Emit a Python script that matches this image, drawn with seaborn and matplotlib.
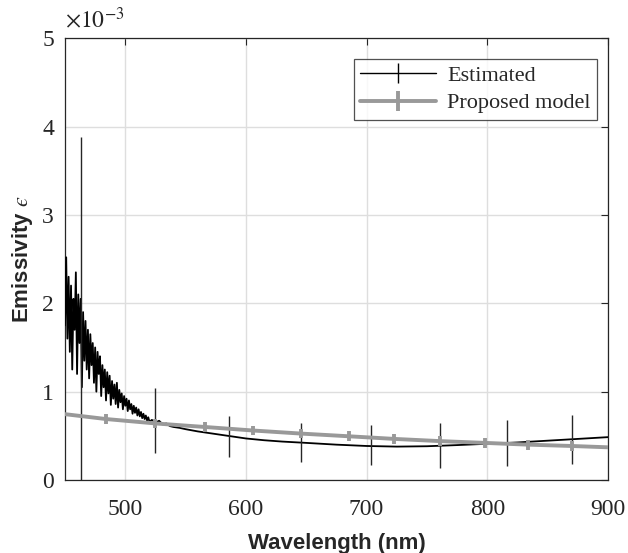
import numpy as np
import pandas as pd
import matplotlib
matplotlib.use("Agg")
from matplotlib import pyplot as plt
from matplotlib.lines import Line2D
import seaborn as sns

# estimated emissivity (x1e-3), dense noisy part then smooth tail
wl_est = list(range(450, 521)) + [522, 525, 528, 531, 534, 537, 540, 545, 550, 560, 570,
                                  580, 590, 600, 615, 630, 650, 675, 700, 725, 750, 775,
                                  800, 825, 850, 875, 900]
eps_est = [1.75, 2.52, 1.60, 2.30, 1.45, 2.20, 1.25, 2.05, 1.70, 2.35,
           1.20, 2.10, 1.55, 2.05, 1.05, 1.90, 1.35, 1.80, 1.25, 1.70,
           1.15, 1.65, 1.30, 1.55, 1.10, 1.50, 1.00, 1.45, 1.20, 1.40,
           0.95, 1.30, 1.05, 1.25, 0.90, 1.22, 0.98, 1.18, 0.85, 1.12,
           0.92, 1.08, 0.86, 1.10, 0.82, 1.02, 0.88, 0.98, 0.80, 0.95,
           0.84, 0.92, 0.78, 0.90, 0.80, 0.86, 0.75, 0.84, 0.76, 0.82,
           0.73, 0.80, 0.72, 0.77, 0.70, 0.75, 0.69, 0.73, 0.67, 0.71,
           0.66,
           0.68, 0.65, 0.67, 0.63, 0.64, 0.61, 0.60, 0.59, 0.575, 0.55, 0.53,
           0.51, 0.49, 0.47, 0.45, 0.435, 0.42, 0.40, 0.385, 0.378, 0.382, 0.395,
           0.41, 0.425, 0.445, 0.465, 0.485]

# error bars of the estimate
wl_eb = [463, 525, 586, 646, 704, 761, 816, 870]
eb_low = [0.0, 0.31, 0.26, 0.20, 0.17, 0.14, 0.16, 0.18]
eb_high = [3.88, 1.04, 0.72, 0.65, 0.62, 0.64, 0.68, 0.74]

# proposed model
wl_mod = [450, 484, 525, 566, 606, 646, 685, 723, 761, 798, 834, 870, 900]
eps_mod = [0.745, 0.69, 0.64, 0.60, 0.56, 0.525, 0.495, 0.465, 0.44, 0.42, 0.40, 0.385, 0.37]
mod_err = 0.055

sns.set_style("white")
plt.rcParams["font.family"] = ["Liberation Serif", "DejaVu Serif"]
plt.rcParams["mathtext.fontset"] = "stix"

fig = plt.figure(figsize=(6.28, 5.53), dpi=100)
ax = fig.add_axes([0.1035, 0.132, 0.8645, 0.799])

est = pd.DataFrame({"wl": wl_est, "eps": eps_est})
mod = pd.DataFrame({"wl": wl_mod, "eps": eps_mod})

sns.lineplot(data=est, x="wl", y="eps", ax=ax, color="black", lw=1.3, zorder=3)
eb_mid = [(a + b) / 2 for a, b in zip(eb_low, eb_high)]
eb_half = [(b - a) / 2 for a, b in zip(eb_low, eb_high)]
ax.errorbar(wl_eb, eb_mid, yerr=eb_half, fmt="none", ecolor="#262626", elinewidth=1.0,
            capsize=0, zorder=3)

sns.lineplot(data=mod, x="wl", y="eps", ax=ax, color="#999999", lw=2.8, zorder=4)
ax.errorbar(wl_mod[1:-1], eps_mod[1:-1], yerr=mod_err, fmt="none", ecolor="#999999",
            elinewidth=2.8, capsize=0, zorder=4)

ax.set_xlim(450, 900)
ax.set_ylim(0, 5)
ax.set_xticks([500, 600, 700, 800, 900])
ax.set_yticks([0, 1, 2, 3, 4, 5])
ax.grid(True, color="#dedede", lw=1.0)
ax.tick_params(direction="in", top=True, right=True, length=5, width=0.8,
               labelsize=17, color="#262626")
ax.tick_params(axis="x", pad=14)
ax.tick_params(axis="y", pad=8)
for s in ax.spines.values():
    s.set_color("#262626")
    s.set_linewidth(0.9)

ax.set_xlabel("Wavelength (nm)", fontsize=16, fontweight="bold",
              family=["Liberation Sans", "DejaVu Sans"], color="#262626", labelpad=9)
ax.set_ylabel("Emissivity $\u03f5$", fontsize=16, fontweight="bold",
              family=["Liberation Sans", "DejaVu Sans"], color="#262626", labelpad=5)
ax.text(0.0, 1.012, r"$\times 10^{-3}$", transform=ax.transAxes, fontsize=17,
        ha="left", va="bottom", color="#262626")

handles = [
    Line2D([], [], color="black", lw=1.0, marker="|", markersize=15, markeredgewidth=1.0),
    Line2D([], [], color="#999999", lw=2.8, marker="|", markersize=15, markeredgewidth=2.8),
]
leg = ax.legend(handles, ["Estimated", "Proposed model"], loc="upper right",
                bbox_to_anchor=(0.98, 0.953), borderaxespad=0, fontsize=16,
                frameon=True, fancybox=False, edgecolor="#262626", handlelength=3.4,
                labelspacing=0.3, borderpad=0.3, handletextpad=0.5)
leg.get_frame().set_linewidth(0.9)

fig.savefig("out.png", dpi=100)
